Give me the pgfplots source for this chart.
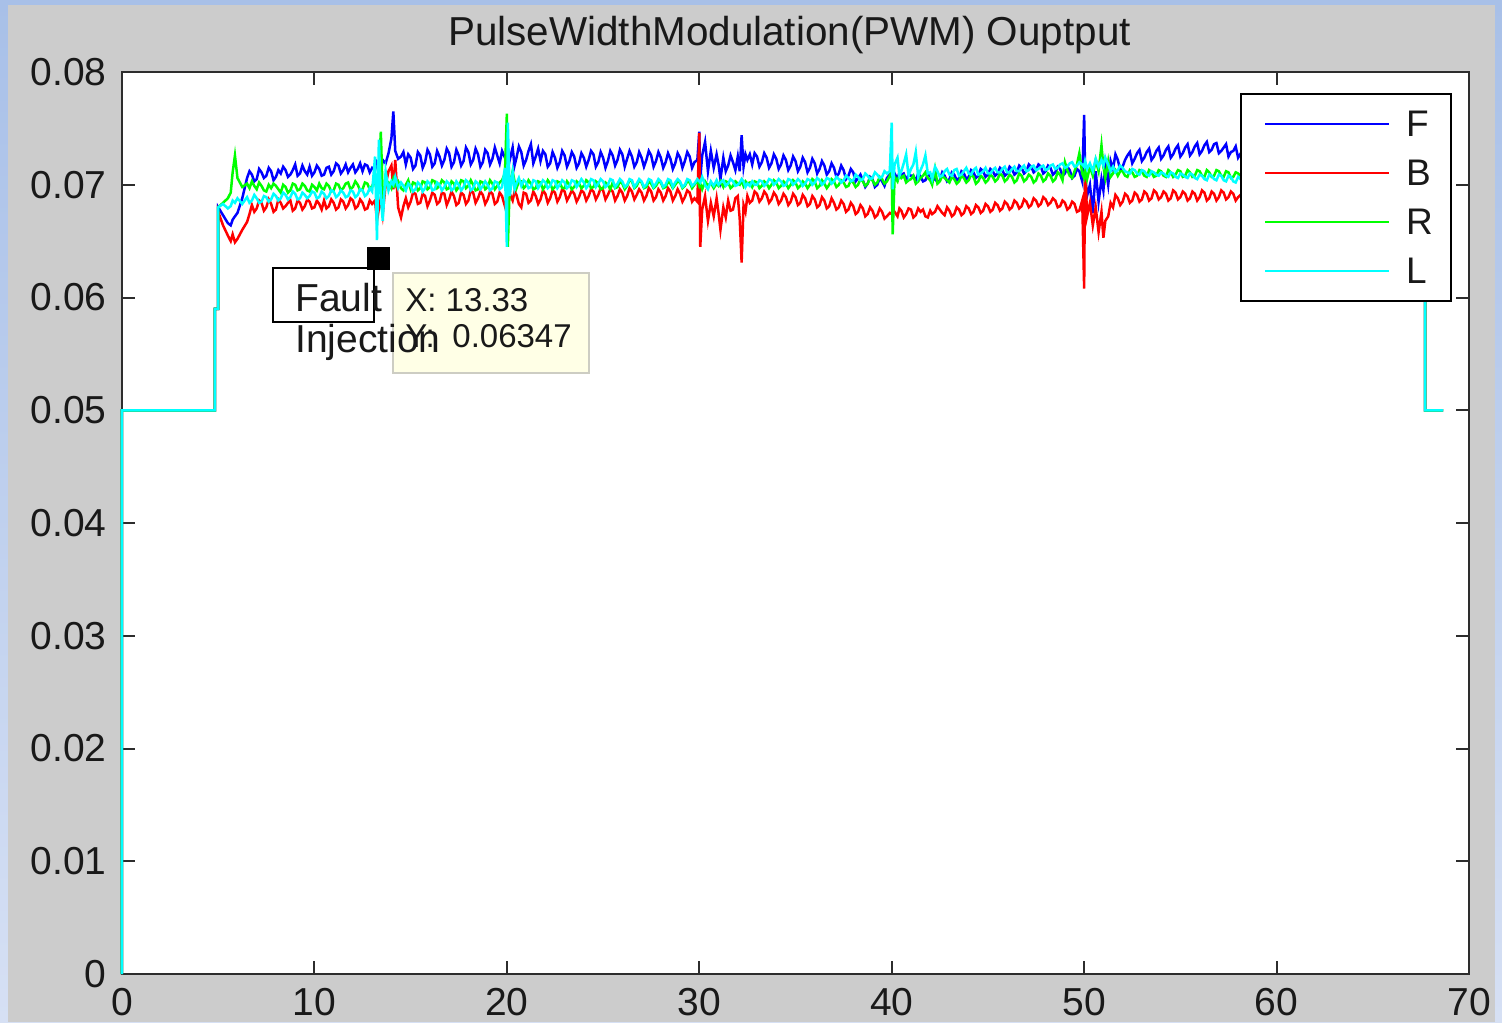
\documentclass[border=0pt]{standalone}
\usepackage{pgfplots}
\pgfplotsset{compat=1.18}
\usepackage{pgfplotstable}
\usepackage{fontspec}
\setmainfont{Liberation Sans}
\definecolor{bordertop}{RGB}{168,192,232}
\definecolor{borderbot}{RGB}{214,224,244}
\definecolor{figgrey}{RGB}{204,204,204}
\definecolor{tipfill}{RGB}{255,255,230}
\definecolor{tipdraw}{RGB}{205,205,195}
\definecolor{axgrey}{RGB}{45,45,45}
\definecolor{txt}{RGB}{25,25,25}
\definecolor{mblue}{RGB}{0,0,255}
\definecolor{mred}{RGB}{255,0,0}
\definecolor{mgreen}{RGB}{0,255,0}
\definecolor{mcyan}{RGB}{0,255,255}

\pgfplotstableread{
x F B R L
0 0 0 0 0
0 0.05 0.05 0.05 0.05
4.83 0.05 0.05 0.05 0.05
4.83 0.059 0.059 0.059 0.059
4.99 0.059 0.059 0.059 0.059
5.0 0.0680 0.0676 0.0680 0.0680
5.25 0.0673 0.0664 0.0684 0.0683
5.5 0.0666 0.0655 0.0688 0.0679
5.65 0.0664 0.0650 0.0693 0.0681
5.75 0.0669 0.0656 0.0711 0.0686
5.87 0.0672 0.0649 0.0726 0.0684
6.0 0.0675 0.0652 0.0706 0.0688
6.25 0.0688 0.0660 0.0698 0.0683
6.5 0.0706 0.0667 0.0701 0.0689
6.625 0.0712 0.0674 0.0697 0.0684
6.75 0.0709 0.0682 0.0703 0.0686
6.875 0.0703 0.0676 0.0699 0.0691
7.0 0.0705 0.0679 0.0696 0.0688
7.125 0.0714 0.0686 0.0702 0.0684
7.25 0.0711 0.0684 0.0699 0.0685
7.375 0.0706 0.0677 0.0695 0.0690
7.5 0.0708 0.0680 0.0694 0.0689
7.625 0.0715 0.0687 0.0700 0.0685
7.75 0.0712 0.0683 0.0697 0.0687
7.875 0.0704 0.0676 0.0701 0.0692
8.0 0.0707 0.0678 0.0699 0.0690
8.125 0.0713 0.0687 0.0696 0.0686
8.25 0.0710 0.0684 0.0693 0.0688
8.375 0.0716 0.0679 0.0700 0.0693
8.5 0.0713 0.0681 0.0698 0.0691
8.625 0.0707 0.0684 0.0693 0.0687
8.75 0.0709 0.0686 0.0695 0.0689
8.875 0.0713 0.0677 0.0701 0.0694
9.0 0.0718 0.0679 0.0700 0.0692
9.125 0.0708 0.0686 0.0695 0.0687
9.25 0.0710 0.0684 0.0696 0.0688
9.375 0.0717 0.0678 0.0701 0.0693
9.5 0.0712 0.0681 0.0699 0.0691
9.625 0.0709 0.0687 0.0695 0.0688
9.75 0.0716 0.0685 0.0694 0.0690
9.875 0.0708 0.0679 0.0700 0.0694
10.0 0.0711 0.0680 0.0698 0.0693
10.125 0.0717 0.0686 0.0695 0.0688
10.25 0.0714 0.0683 0.0701 0.0689
10.375 0.0708 0.0678 0.0697 0.0694
10.5 0.0709 0.0686 0.0696 0.0692
10.625 0.0715 0.0679 0.0701 0.0688
10.75 0.0716 0.0681 0.0699 0.0690
10.875 0.0709 0.0687 0.0694 0.0695
11.0 0.0712 0.0684 0.0695 0.0694
11.125 0.0719 0.0678 0.0701 0.0689
11.25 0.0717 0.0680 0.0700 0.0691
11.375 0.0710 0.0687 0.0695 0.0695
11.5 0.0713 0.0685 0.0697 0.0693
11.625 0.0718 0.0679 0.0701 0.0689
11.75 0.0711 0.0682 0.0702 0.0690
11.875 0.0715 0.0688 0.0696 0.0695
12.0 0.0718 0.0686 0.0698 0.0694
12.125 0.0711 0.0679 0.0703 0.0689
12.25 0.0714 0.0681 0.0700 0.0691
12.375 0.0719 0.0687 0.0695 0.0696
12.5 0.0712 0.0684 0.0696 0.0695
12.625 0.0718 0.0678 0.0702 0.0690
12.75 0.0717 0.0679 0.0701 0.0692
12.875 0.0711 0.0686 0.0696 0.0697
13.0 0.0715 0.0683 0.0699 0.0694
13.15 0.0713 0.0686 0.0704 0.0725
13.25 0.0720 0.0668 0.0692 0.0651
13.35 0.0717 0.0679 0.0712 0.0740
13.45 0.0712 0.0688 0.0747 0.0690
13.55 0.0722 0.0674 0.0690 0.0668
13.7 0.0719 0.0700 0.0700 0.0712
13.85 0.0728 0.0712 0.0702 0.0695
14.0 0.0741 0.0717 0.0697 0.0703
14.1 0.0765 0.0696 0.0705 0.0700
14.2 0.0730 0.0722 0.0699 0.0707
14.35 0.0723 0.0680 0.0703 0.0697
14.5 0.0725 0.0671 0.0697 0.0702
14.625 0.0729 0.0681 0.0695 0.0699
14.75 0.0718 0.0688 0.0700 0.0695
14.875 0.0727 0.0680 0.0704 0.0701
15.0 0.0724 0.0685 0.0696 0.0699
15.125 0.0714 0.0693 0.0702 0.0694
15.25 0.0717 0.0692 0.0701 0.0696
15.375 0.0729 0.0683 0.0695 0.0702
15.5 0.0726 0.0684 0.0697 0.0700
15.625 0.0715 0.0692 0.0703 0.0694
15.75 0.0720 0.0690 0.0702 0.0697
15.875 0.0731 0.0681 0.0696 0.0703
16.0 0.0727 0.0686 0.0698 0.0701
16.125 0.0716 0.0693 0.0704 0.0695
16.25 0.0719 0.0691 0.0703 0.0696
16.375 0.0730 0.0683 0.0697 0.0702
16.5 0.0725 0.0685 0.0699 0.0700
16.625 0.0717 0.0693 0.0704 0.0695
16.75 0.0722 0.0692 0.0702 0.0698
16.875 0.0732 0.0682 0.0696 0.0703
17.0 0.0728 0.0687 0.0697 0.0701
17.125 0.0716 0.0694 0.0703 0.0695
17.25 0.0720 0.0690 0.0701 0.0697
17.375 0.0731 0.0682 0.0695 0.0703
17.5 0.0726 0.0684 0.0698 0.0700
17.625 0.0717 0.0693 0.0704 0.0695
17.75 0.0721 0.0691 0.0703 0.0698
17.875 0.0733 0.0683 0.0697 0.0704
18.0 0.0729 0.0686 0.0699 0.0702
18.125 0.0718 0.0695 0.0704 0.0695
18.25 0.0722 0.0693 0.0700 0.0697
18.375 0.0732 0.0684 0.0695 0.0703
18.5 0.0727 0.0688 0.0696 0.0701
18.625 0.0716 0.0694 0.0703 0.0696
18.75 0.0720 0.0691 0.0702 0.0699
18.875 0.0731 0.0683 0.0696 0.0703
19.0 0.0728 0.0687 0.0698 0.0700
19.125 0.0718 0.0694 0.0704 0.0695
19.25 0.0723 0.0692 0.0701 0.0697
19.375 0.0733 0.0683 0.0696 0.0703
19.5 0.0726 0.0685 0.0699 0.0702
19.625 0.0719 0.0693 0.0702 0.0696
19.75 0.0730 0.0690 0.0704 0.0698
19.9 0.0724 0.0681 0.0710 0.0715
20.0 0.0726 0.0688 0.0763 0.0645
20.05 0.0730 0.0684 0.0645 0.0755
20.15 0.0722 0.0692 0.0700 0.0690
20.3 0.0733 0.0686 0.0712 0.0711
20.4 0.0717 0.0694 0.0703 0.0696
20.5 0.0724 0.0691 0.0697 0.0701
20.625 0.0734 0.0683 0.0703 0.0706
20.75 0.0729 0.0680 0.0703 0.0699
20.875 0.0717 0.0693 0.0697 0.0704
21.0 0.0722 0.0692 0.0699 0.0702
21.125 0.0730 0.0684 0.0704 0.0697
21.25 0.0736 0.0686 0.0701 0.0698
21.375 0.0719 0.0694 0.0696 0.0704
21.5 0.0725 0.0690 0.0697 0.0703
21.625 0.0732 0.0683 0.0703 0.0697
21.75 0.0721 0.0687 0.0702 0.0700
21.875 0.0730 0.0695 0.0696 0.0704
22.0 0.0727 0.0692 0.0699 0.0702
22.125 0.0716 0.0684 0.0704 0.0697
22.25 0.0719 0.0688 0.0701 0.0699
22.375 0.0729 0.0695 0.0696 0.0704
22.5 0.0724 0.0693 0.0698 0.0703
22.625 0.0715 0.0685 0.0703 0.0697
22.75 0.0720 0.0689 0.0702 0.0700
22.875 0.0730 0.0696 0.0697 0.0704
23.0 0.0726 0.0694 0.0697 0.0702
23.125 0.0716 0.0686 0.0703 0.0697
23.25 0.0721 0.0690 0.0700 0.0699
23.375 0.0729 0.0695 0.0696 0.0704
23.5 0.0725 0.0692 0.0698 0.0703
23.625 0.0715 0.0685 0.0703 0.0698
23.75 0.0719 0.0689 0.0701 0.0701
23.875 0.0728 0.0695 0.0697 0.0705
24.0 0.0724 0.0693 0.0699 0.0702
24.125 0.0716 0.0686 0.0704 0.0697
24.25 0.0722 0.0690 0.0702 0.0700
24.375 0.0730 0.0696 0.0697 0.0705
24.5 0.0727 0.0694 0.0698 0.0704
24.625 0.0716 0.0687 0.0703 0.0698
24.75 0.0720 0.0691 0.0701 0.0701
24.875 0.0729 0.0697 0.0696 0.0705
25.0 0.0724 0.0695 0.0697 0.0703
25.125 0.0715 0.0687 0.0702 0.0698
25.25 0.0721 0.0691 0.0700 0.0700
25.375 0.0730 0.0696 0.0696 0.0705
25.5 0.0726 0.0694 0.0702 0.0704
25.625 0.0717 0.0686 0.0697 0.0698
25.75 0.0722 0.0690 0.0698 0.0701
25.875 0.0731 0.0696 0.0703 0.0705
26.0 0.0727 0.0693 0.0701 0.0703
26.125 0.0716 0.0686 0.0696 0.0698
26.25 0.0723 0.0690 0.0699 0.0700
26.375 0.0730 0.0697 0.0704 0.0705
26.5 0.0725 0.0694 0.0703 0.0704
26.625 0.0716 0.0687 0.0697 0.0698
26.75 0.0720 0.0691 0.0699 0.0701
26.875 0.0729 0.0696 0.0704 0.0705
27.0 0.0724 0.0693 0.0702 0.0703
27.125 0.0716 0.0686 0.0697 0.0698
27.25 0.0722 0.0690 0.0698 0.0700
27.375 0.0730 0.0697 0.0703 0.0705
27.5 0.0726 0.0694 0.0701 0.0704
27.625 0.0716 0.0686 0.0697 0.0698
27.75 0.0721 0.0689 0.0699 0.0701
27.875 0.0729 0.0696 0.0703 0.0705
28.0 0.0724 0.0693 0.0702 0.0703
28.125 0.0715 0.0686 0.0697 0.0698
28.25 0.0720 0.0690 0.0698 0.0700
28.375 0.0728 0.0697 0.0703 0.0705
28.5 0.0723 0.0694 0.0701 0.0704
28.625 0.0714 0.0686 0.0697 0.0698
28.75 0.0719 0.0690 0.0700 0.0702
28.875 0.0728 0.0696 0.0703 0.0705
29.0 0.0724 0.0692 0.0702 0.0703
29.125 0.0715 0.0685 0.0697 0.0698
29.25 0.0721 0.0689 0.0699 0.0700
29.375 0.0729 0.0695 0.0703 0.0705
29.5 0.0725 0.0693 0.0702 0.0704
29.625 0.0715 0.0685 0.0697 0.0699
29.75 0.0720 0.0688 0.0700 0.0701
29.9 0.0722 0.0685 0.0704 0.0705
30.0 0.0747 0.0746 0.0699 0.0703
30.05 0.0705 0.0645 0.0701 0.0702
30.15 0.0726 0.0678 0.0696 0.0707
30.3 0.0738 0.0690 0.0703 0.0700
30.45 0.0712 0.0668 0.0699 0.0696
30.6 0.0730 0.0684 0.0702 0.0703
30.75 0.0715 0.0672 0.0697 0.0699
30.9 0.0727 0.0688 0.0701 0.0704
31.0 0.0718 0.0675 0.0699 0.0700
31.1 0.0705 0.0660 0.0703 0.0702
31.25 0.0724 0.0680 0.0698 0.0704
31.375 0.0712 0.0671 0.0703 0.0699
31.5 0.0717 0.0686 0.0702 0.0701
31.625 0.0726 0.0677 0.0697 0.0705
31.75 0.0720 0.0678 0.0699 0.0703
31.875 0.0713 0.0688 0.0703 0.0699
32.0 0.0725 0.0690 0.0701 0.0700
32.1 0.0712 0.0670 0.0700 0.0702
32.2 0.0744 0.0631 0.0704 0.0705
32.3 0.0716 0.0682 0.0699 0.0703
32.4 0.0727 0.0676 0.0703 0.0698
32.5 0.0722 0.0690 0.0701 0.0701
32.625 0.0727 0.0684 0.0702 0.0699
32.75 0.0718 0.0686 0.0698 0.0703
32.875 0.0728 0.0694 0.0703 0.0700
33.0 0.0725 0.0692 0.0702 0.0700
33.125 0.0716 0.0685 0.0697 0.0704
33.25 0.0720 0.0688 0.0699 0.0703
33.375 0.0728 0.0694 0.0703 0.0699
33.5 0.0724 0.0691 0.0701 0.0701
33.625 0.0715 0.0684 0.0697 0.0705
33.75 0.0719 0.0687 0.0700 0.0704
33.875 0.0727 0.0693 0.0704 0.0700
34.0 0.0723 0.0690 0.0702 0.0702
34.125 0.0714 0.0683 0.0697 0.0705
34.25 0.0718 0.0686 0.0699 0.0703
34.375 0.0726 0.0692 0.0703 0.0699
34.5 0.0722 0.0689 0.0701 0.0700
34.625 0.0713 0.0682 0.0697 0.0705
34.75 0.0717 0.0685 0.0700 0.0704
34.875 0.0725 0.0692 0.0704 0.0700
35.0 0.0721 0.0689 0.0702 0.0702
35.125 0.0712 0.0682 0.0697 0.0705
35.25 0.0716 0.0684 0.0699 0.0703
35.375 0.0724 0.0691 0.0703 0.0699
35.5 0.0720 0.0688 0.0701 0.0701
35.625 0.0711 0.0681 0.0697 0.0705
35.75 0.0715 0.0683 0.0700 0.0704
35.875 0.0723 0.0690 0.0705 0.0700
36.0 0.0719 0.0687 0.0703 0.0702
36.125 0.0710 0.0680 0.0697 0.0706
36.25 0.0714 0.0682 0.0699 0.0704
36.375 0.0721 0.0689 0.0704 0.0700
36.5 0.0717 0.0686 0.0701 0.0702
36.625 0.0709 0.0679 0.0697 0.0706
36.75 0.0712 0.0681 0.0700 0.0705
36.875 0.0719 0.0688 0.0705 0.0701
37.0 0.0715 0.0684 0.0703 0.0703
37.125 0.0707 0.0678 0.0698 0.0707
37.25 0.0710 0.0680 0.0700 0.0705
37.375 0.0717 0.0686 0.0704 0.0702
37.5 0.0713 0.0683 0.0702 0.0704
37.625 0.0705 0.0676 0.0698 0.0708
37.75 0.0708 0.0678 0.0699 0.0706
37.875 0.0714 0.0684 0.0704 0.0703
38.0 0.0711 0.0681 0.0702 0.0704
38.125 0.0703 0.0674 0.0698 0.0709
38.25 0.0706 0.0676 0.0700 0.0707
38.375 0.0709 0.0682 0.0705 0.0704
38.5 0.0704 0.0679 0.0703 0.0705
38.625 0.0698 0.0672 0.0699 0.0710
38.75 0.0701 0.0674 0.0701 0.0708
38.875 0.0707 0.0680 0.0706 0.0705
39.0 0.0705 0.0677 0.0704 0.0706
39.125 0.0698 0.0671 0.0700 0.0711
39.25 0.0700 0.0673 0.0702 0.0709
39.375 0.0706 0.0679 0.0707 0.0706
39.5 0.0703 0.0676 0.0705 0.0707
39.625 0.0699 0.0670 0.0701 0.0712
39.75 0.0706 0.0672 0.0703 0.0710
39.9 0.0709 0.0675 0.0708 0.0712
40.0 0.0711 0.0674 0.0712 0.0755
40.05 0.0707 0.0678 0.0656 0.0696
40.15 0.0710 0.0676 0.0707 0.0718
40.3 0.0705 0.0672 0.0703 0.0724
40.4 0.0711 0.0679 0.0709 0.0708
40.5 0.0709 0.0677 0.0706 0.0712
40.625 0.0710 0.0671 0.0708 0.0719
40.75 0.0704 0.0674 0.0702 0.0727
40.875 0.0709 0.0679 0.0704 0.0708
41.0 0.0708 0.0678 0.0705 0.0714
41.125 0.0708 0.0671 0.0708 0.0718
41.25 0.0703 0.0673 0.0701 0.0729
41.375 0.0710 0.0679 0.0703 0.0707
41.5 0.0707 0.0676 0.0706 0.0713
41.625 0.0703 0.0678 0.0708 0.0718
41.75 0.0704 0.0672 0.0711 0.0726
41.875 0.0709 0.0671 0.0706 0.0710
42.0 0.0708 0.0677 0.0704 0.0711
42.1 0.0703 0.0674 0.0700 0.0705
42.25 0.0706 0.0676 0.0714 0.0716
42.375 0.0702 0.0681 0.0701 0.0712
42.5 0.0704 0.0678 0.0703 0.0707
42.625 0.0711 0.0675 0.0708 0.0708
42.75 0.0708 0.0673 0.0706 0.0712
42.875 0.0703 0.0680 0.0704 0.0714
43.0 0.0705 0.0677 0.0702 0.0709
43.125 0.0711 0.0672 0.0707 0.0708
43.25 0.0709 0.0674 0.0705 0.0713
43.375 0.0704 0.0680 0.0701 0.0714
43.5 0.0706 0.0678 0.0703 0.0708
43.625 0.0712 0.0673 0.0708 0.0709
43.75 0.0710 0.0675 0.0706 0.0712
43.875 0.0705 0.0681 0.0702 0.0715
44.0 0.0707 0.0679 0.0704 0.0710
44.125 0.0713 0.0674 0.0709 0.0709
44.25 0.0711 0.0676 0.0707 0.0713
44.375 0.0706 0.0682 0.0701 0.0715
44.5 0.0708 0.0680 0.0703 0.0709
44.625 0.0714 0.0675 0.0708 0.0710
44.75 0.0712 0.0677 0.0706 0.0712
44.875 0.0707 0.0683 0.0702 0.0715
45.0 0.0709 0.0681 0.0704 0.0710
45.125 0.0714 0.0676 0.0709 0.0710
45.25 0.0712 0.0678 0.0707 0.0713
45.375 0.0708 0.0684 0.0703 0.0715
45.5 0.0710 0.0682 0.0705 0.0711
45.625 0.0715 0.0677 0.0710 0.0711
45.75 0.0713 0.0679 0.0708 0.0714
45.875 0.0708 0.0685 0.0703 0.0716
46.0 0.0710 0.0683 0.0705 0.0711
46.125 0.0716 0.0678 0.0709 0.0711
46.25 0.0714 0.0680 0.0707 0.0714
46.375 0.0709 0.0686 0.0702 0.0716
46.5 0.0711 0.0684 0.0704 0.0712
46.625 0.0717 0.0679 0.0710 0.0712
46.75 0.0715 0.0681 0.0708 0.0715
46.875 0.0710 0.0687 0.0703 0.0717
47.0 0.0712 0.0685 0.0705 0.0712
47.125 0.0718 0.0680 0.0709 0.0713
47.25 0.0716 0.0682 0.0707 0.0716
47.375 0.0711 0.0688 0.0702 0.0717
47.5 0.0713 0.0686 0.0704 0.0713
47.625 0.0718 0.0681 0.0710 0.0714
47.75 0.0716 0.0683 0.0708 0.0716
47.875 0.0710 0.0689 0.0703 0.0717
48.0 0.0712 0.0687 0.0705 0.0713
48.125 0.0717 0.0682 0.0710 0.0714
48.25 0.0715 0.0684 0.0708 0.0717
48.375 0.0709 0.0688 0.0703 0.0718
48.5 0.0711 0.0686 0.0705 0.0714
48.625 0.0716 0.0680 0.0711 0.0715
48.75 0.0714 0.0681 0.0709 0.0718
48.875 0.0708 0.0686 0.0704 0.0719
49.0 0.0710 0.0684 0.0720 0.0715
49.125 0.0716 0.0678 0.0713 0.0716
49.25 0.0713 0.0680 0.0708 0.0719
49.375 0.0706 0.0685 0.0706 0.0720
49.5 0.0708 0.0683 0.0712 0.0716
49.625 0.0714 0.0676 0.0718 0.0717
49.75 0.0712 0.0677 0.0728 0.0720
49.9 0.0703 0.0686 0.0710 0.0718
50.0 0.0762 0.0608 0.0706 0.0716
50.05 0.0708 0.0720 0.0713 0.0721
50.15 0.0690 0.0672 0.0705 0.0714
50.3 0.0700 0.0684 0.0716 0.0719
50.45 0.0675 0.0664 0.0708 0.0712
50.6 0.0712 0.0680 0.0722 0.0723
50.75 0.0685 0.0658 0.0712 0.0716
50.9 0.0705 0.0676 0.0735 0.0722
51.0 0.0695 0.0653 0.0716 0.0717
51.1 0.0718 0.0668 0.0706 0.0724
51.25 0.0700 0.0672 0.0721 0.0718
51.375 0.0721 0.0684 0.0707 0.0712
51.5 0.0714 0.0680 0.0710 0.0716
51.625 0.0727 0.0691 0.0713 0.0711
51.75 0.0722 0.0688 0.0708 0.0713
51.875 0.0713 0.0682 0.0712 0.0717
52.0 0.0716 0.0685 0.0712 0.0715
52.125 0.0722 0.0692 0.0708 0.0712
52.25 0.0726 0.0690 0.0707 0.0711
52.375 0.0729 0.0684 0.0713 0.0710
52.5 0.0719 0.0686 0.0711 0.0714
52.625 0.0723 0.0693 0.0707 0.0713
52.75 0.0728 0.0691 0.0708 0.0710
52.875 0.0731 0.0685 0.0713 0.0709
53.0 0.0721 0.0687 0.0712 0.0713
53.125 0.0724 0.0694 0.0708 0.0712
53.25 0.0729 0.0692 0.0707 0.0709
53.375 0.0732 0.0686 0.0713 0.0708
53.5 0.0722 0.0688 0.0711 0.0712
53.625 0.0725 0.0695 0.0707 0.0711
53.75 0.0730 0.0693 0.0708 0.0709
53.875 0.0733 0.0687 0.0713 0.0708
54.0 0.0723 0.0689 0.0712 0.0711
54.125 0.0726 0.0694 0.0708 0.0710
54.25 0.0731 0.0692 0.0707 0.0708
54.375 0.0734 0.0686 0.0713 0.0707
54.5 0.0724 0.0688 0.0711 0.0711
54.625 0.0727 0.0695 0.0707 0.0710
54.75 0.0732 0.0693 0.0709 0.0707
54.875 0.0735 0.0687 0.0713 0.0706
55.0 0.0725 0.0689 0.0712 0.0710
55.125 0.0728 0.0694 0.0707 0.0709
55.25 0.0733 0.0692 0.0708 0.0707
55.375 0.0736 0.0686 0.0713 0.0706
55.5 0.0726 0.0688 0.0711 0.0710
55.625 0.0729 0.0694 0.0707 0.0709
55.75 0.0734 0.0692 0.0708 0.0706
55.875 0.0737 0.0686 0.0713 0.0705
56.0 0.0727 0.0689 0.0712 0.0709
56.125 0.0730 0.0695 0.0708 0.0708
56.25 0.0735 0.0693 0.0707 0.0705
56.375 0.0738 0.0686 0.0713 0.0704
56.5 0.0729 0.0688 0.0711 0.0709
56.625 0.0731 0.0694 0.0707 0.0708
56.75 0.0736 0.0692 0.0708 0.0705
56.875 0.0737 0.0686 0.0713 0.0704
57.0 0.0728 0.0689 0.0712 0.0709
57.125 0.0730 0.0695 0.0708 0.0708
57.25 0.0733 0.0693 0.0707 0.0704
57.375 0.0736 0.0687 0.0712 0.0703
57.5 0.0725 0.0689 0.0711 0.0708
57.625 0.0729 0.0694 0.0706 0.0707
57.75 0.0730 0.0692 0.0707 0.0703
57.875 0.0734 0.0686 0.0711 0.0702
58.0 0.0724 0.0689 0.0710 0.0707
58.25 0.0731 0.0693 0.0706 0.0703
58.5 0.0729 0.0692 0.0707 0.0704
59.0 0.0722 0.0689 0.0711 0.0707
60.0 0.0726 0.0692 0.0708 0.0705
61.0 0.0723 0.0690 0.0711 0.0708
62.0 0.0727 0.0693 0.0708 0.0705
63.0 0.0722 0.0690 0.0711 0.0708
64.0 0.0725 0.0692 0.0708 0.0705
65.0 0.0721 0.0689 0.0711 0.0707
66.0 0.0724 0.0692 0.0708 0.0705
67.0 0.0722 0.0690 0.0710 0.0707
67.72 0.0723 0.0691 0.0709 0.0706
67.72 0.05 0.05 0.05 0.05
68.66 0.05 0.05 0.05 0.05
}\pwmdata

\begin{document}
\begin{tikzpicture}
\useasboundingbox (-61pt,-24pt) rectangle (690pt,487pt);
\shade[top color=bordertop, bottom color=borderbot] (-61pt,-24pt) rectangle (690pt,487pt);
\fill[figgrey] (-57pt,-24pt) rectangle (686.5pt,484.5pt);
\begin{axis}[
  at={(0pt,0pt)}, anchor=south west,
  scale only axis, width=673.5pt, height=451pt,
  xmin=0, xmax=70, ymin=0, ymax=0.08,
  xtick={0,10,20,30,40,50,60,70},
  ytick={0,0.01,0.02,0.03,0.04,0.05,0.06,0.07,0.08},
  scaled y ticks=false,
  /pgf/number format/assume math mode=true,
  yticklabel style={/pgf/number format/fixed, /pgf/number format/precision=2, inner sep=0pt, anchor=east, xshift=-7.5pt},
  xticklabel style={inner sep=0pt, anchor=north, yshift=-7pt},
  ticklabel style={font=\fontsize{19.5}{20}\selectfont, text=txt},
  tick align=inside, major tick length=6.5pt,
  axis line style={axgrey, line width=1pt},
  tick style={axgrey, line width=1pt},
  axis background/.style={fill=white},
  title={PulseWidthModulation(PWM) Ouptput},
  title style={font=\fontsize{20.2}{22}\selectfont, text=txt, at={(0.5,1)}, anchor=base, yshift=7.5pt, xshift=-3pt, inner sep=0pt},
  clip=false,
  legend style={at={(1,1)}, anchor=north east, xshift=-8.5pt, yshift=-10.5pt, draw=black, line width=1pt, fill=white, inner xsep=0pt, inner ysep=2.75pt, font=\fontsize{18.5}{20}\selectfont, text=txt, nodes={inner sep=0pt, text height=12.5pt, text depth=0pt, minimum height=24.5pt, text width=22.5pt, align=left}, cells={anchor=west}},
  legend image code/.code={\path[draw=none, fill=none] (0pt,0pt) -- (82.5pt,0pt); \draw[#1, line width=1pt] (12pt,0pt) -- (74pt,0pt);},
]
\addplot[mblue, line width=1.25pt] table[x=x, y=F] {\pwmdata};
\addplot[mred, line width=1.25pt] table[x=x, y=B] {\pwmdata};
\addplot[mgreen, line width=1.25pt] table[x=x, y=R] {\pwmdata};
\addplot[mcyan, line width=1.25pt] table[x=x, y=L] {\pwmdata};
\legend{F,B,R,L}
\addplot[only marks, mark=square*, mark size=5.5pt, black, forget plot] coordinates {(13.33,0.06347)};
\end{axis}
\node[draw=tipdraw, fill=tipfill, line width=0.8pt, minimum width=98pt, minimum height=50pt, anchor=north west, inner sep=0pt] at (135pt,351pt) {};
\node[anchor=base west, inner sep=0pt, text=txt, font=\fontsize{16.5}{18}\selectfont] at (141.5pt,331pt) {X: 13.33};
\node[anchor=base west, inner sep=0pt, text=txt, font=\fontsize{16.5}{18}\selectfont] at (141.5pt,313pt) {Y:};
\node[anchor=base west, inner sep=0pt, text=txt, font=\fontsize{16.5}{18}\selectfont] at (165pt,313pt) {0.06347};
\draw[black, line width=1pt] (75.5pt,326pt) rectangle (126pt,353pt);
\node[anchor=base west, inner sep=0pt, text=txt, font=\fontsize{19.5}{20}\selectfont] at (86.5pt,331pt) {Fault};
\node[anchor=base west, inner sep=0pt, text=txt, font=\fontsize{19.5}{20}\selectfont] at (86.5pt,310.5pt) {Injection};
\end{tikzpicture}
\end{document}
